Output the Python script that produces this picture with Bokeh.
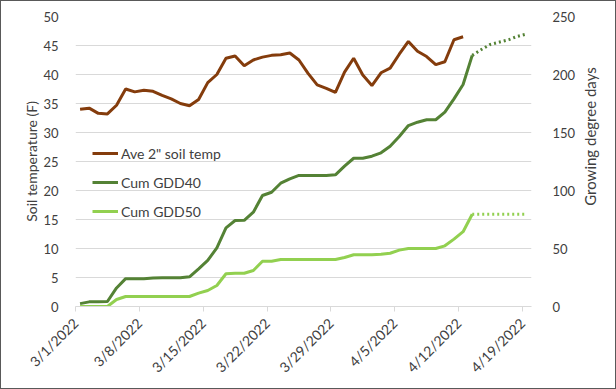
import numpy as np
import pandas as pd
from math import pi
from bokeh.plotting import figure
from bokeh.layouts import row
from bokeh.models import Range1d, LinearAxis, FixedTicker, Legend, LegendItem
from bokeh.core.properties import value
from bokeh.embed import file_html
from bokeh.resources import INLINE

start_date = "2022-03-01"
n_days = 50

soil_temp = [34.0, 34.2, 33.3, 33.2, 34.7, 37.5, 37.0, 37.3, 37.1, 36.4,
             35.8, 35.0, 34.6, 35.7, 38.6, 40.0, 42.8, 43.2, 41.5, 42.5,
             43.0, 43.3, 43.4, 43.7, 42.5, 40.2, 38.2, 37.6, 36.9, 40.4,
             42.8, 39.9, 38.1, 40.3, 41.1, 43.5, 45.7, 44.0, 43.1, 41.7,
             42.2, 46.0, 46.5]

gdd40 = [2.5, 4.0, 4.0, 4.3, 16.0, 24.0, 24.0, 24.0, 24.5, 24.7,
         24.7, 24.7, 25.6, 32.5, 39.7, 50.6, 67.8, 74.1, 74.3, 81.3,
         95.7, 98.5, 106.3, 110.1, 113.0, 113.0, 113.0, 113.0, 113.5, 121.0,
         127.8, 127.8, 129.6, 132.5, 138.2, 146.6, 156.0, 158.9, 161.0, 161.0,
         167.5, 179.0, 191.4, 216.5]

gdd50 = [0.0, 0.0, 0.0, 0.0, 6.0, 8.6, 8.6, 8.6, 8.6, 8.6,
         8.6, 8.6, 8.6, 11.5, 13.8, 18.1, 28.2, 28.7, 28.7, 31.0,
         39.0, 39.0, 40.5, 40.5, 40.5, 40.5, 40.5, 40.5, 40.5, 42.2,
         44.6, 44.6, 44.6, 45.0, 45.9, 48.6, 50.0, 50.0, 50.0, 50.0,
         52.3, 58.1, 64.5, 79.5]

forecast_start = 43
gdd40_forecast = [216.5, 221.5, 226.0, 228.0, 230.0, 233.0, 235.0]
gdd50_forecast = [79.5, 79.5, 79.5, 79.5, 79.5, 79.5, 79.5]

tick_labels = ["3/1/2022", "3/8/2022", "3/15/2022", "3/22/2022",
               "3/29/2022", "4/5/2022", "4/12/2022", "4/19/2022"]

left_title = "Soil temperature (F)"
right_title = "Growing degree days"

dates = pd.date_range(start_date, periods=n_days, freq="D")
day_idx = np.arange(len(dates))
x_center = day_idx + 0.5

FONT = "Lato"
TXT = "#404040"
BROWN = "#843C0C"
DKGREEN = "#548235"
LTGREEN = "#92D050"

W_MAIN, W_SIDE, H = 578, 38, 389

p = figure(width=W_MAIN, height=H, output_backend="svg", toolbar_location=None,
           x_range=Range1d(0, n_days), y_range=Range1d(0, 50),
           min_border_left=75, min_border_right=W_MAIN - 533, min_border_top=16,
           min_border_bottom=83)
p.extra_y_ranges = {"gdd": Range1d(0, 250)}
p.outline_line_color = None
p.background_fill_color = "white"
p.border_fill_alpha = 0

r1 = p.line(x_center[:len(soil_temp)], soil_temp, color=BROWN, line_width=3)
r2 = p.line(x_center[:len(gdd40)], gdd40, color=DKGREEN, line_width=3,
            y_range_name="gdd")
r3 = p.line(x_center[:len(gdd50)], gdd50, color=LTGREEN, line_width=3,
            y_range_name="gdd")
xf = x_center[forecast_start:forecast_start + len(gdd40_forecast)]
p.line(xf, gdd40_forecast, color=DKGREEN, line_width=3, line_dash="2 3",
       y_range_name="gdd")
p.line(xf, gdd50_forecast, color=LTGREEN, line_width=3, line_dash="2 3",
       y_range_name="gdd")

# grid
p.xgrid.grid_line_color = None
p.ygrid.grid_line_color = "#d9d9d9"
p.ygrid.ticker = FixedTicker(ticks=list(range(0, 51, 5)))

# x axis
tick_pos = [7 * i for i in range(len(tick_labels))]
xa = p.xaxis[0]
xa.ticker = FixedTicker(ticks=tick_pos)
xa.major_label_overrides = {t: lab for t, lab in zip(tick_pos, tick_labels)}
xa.major_label_orientation = pi / 4
xa.axis_line_color = "#d9d9d9"
xa.major_tick_line_color = "#d9d9d9"
xa.major_tick_in = 0
xa.major_tick_out = 5
xa.minor_tick_line_color = None
xa.major_label_text_font = FONT
xa.major_label_text_font_size = "14px"
xa.major_label_text_color = TXT
xa.major_label_standoff = 9

# left axis
ya = p.yaxis[0]
ya.ticker = FixedTicker(ticks=list(range(0, 51, 5)))
ya.axis_label = left_title
ya.axis_line_color = None
ya.major_tick_line_color = None
ya.minor_tick_line_color = None
ya.major_label_standoff = 11
ya.axis_label_standoff = 0
ya.major_label_text_font = FONT
ya.major_label_text_font_size = "13px"
ya.major_label_text_color = TXT
ya.axis_label_text_font = FONT
ya.axis_label_text_font_size = "14px"
ya.axis_label_text_font_style = "normal"
ya.axis_label_text_color = TXT

ra = LinearAxis(y_range_name="gdd",
                ticker=FixedTicker(ticks=list(range(0, 251, 50))))
ra.axis_line_color = None
ra.major_tick_line_color = None
ra.minor_tick_line_color = None
ra.major_label_standoff = 15
ra.major_label_text_font = FONT
ra.major_label_text_font_size = "13px"
ra.major_label_text_color = TXT
p.add_layout(ra, "right")

legend = Legend(items=[LegendItem(label='Ave 2" soil temp', renderers=[r1]),
                       LegendItem(label="Cum GDD40", renderers=[r2]),
                       LegendItem(label="Cum GDD50", renderers=[r3])],
                location=(17, 85))
legend.glyph_width = 26
legend.glyph_height = 20
legend.spacing = 9
legend.padding = 0
legend.margin = 0
legend.label_standoff = 3
legend.border_line_alpha = 0
legend.background_fill_alpha = 0
legend.label_text_font = FONT
legend.label_text_font_size = "14px"
legend.label_text_color = TXT
p.add_layout(legend)

# narrow side strip holding the right axis title (reads bottom-to-top)
side = figure(width=W_SIDE, height=H, output_backend="svg", toolbar_location=None,
              x_range=Range1d(0, W_SIDE), y_range=Range1d(0, H),
              x_axis_type=None, y_axis_type=None, min_border=0)
side.outline_line_color = None
side.background_fill_alpha = 0
side.border_fill_alpha = 0
side.grid.visible = False
side.text(x=[589 - W_MAIN], y=[H - 161], text=[right_title], angle=pi / 2,
          text_align="center", text_baseline="middle",
          text_font=value(FONT), text_font_size="15px", text_color=TXT)

layout = row(p, side, spacing=0,
             styles={"outline": "1px solid #595959", "outline-offset": "-1px"})

open("out.html", "w").write(file_html(layout, INLINE))
